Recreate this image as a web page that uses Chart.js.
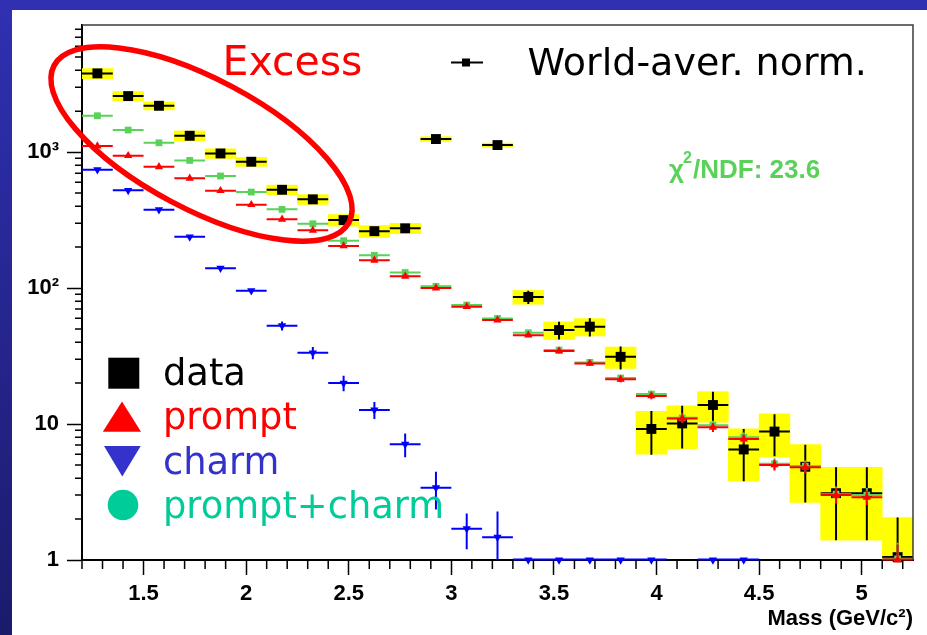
<!DOCTYPE html>
<html><head><meta charset="utf-8">
<script src="https://cdn.jsdelivr.net/npm/chart.js@4.4.1/dist/chart.umd.min.js"></script>
<style>html,body{margin:0;padding:0;background:#fff;overflow:hidden}canvas{display:block}</style>
</head><body>
<canvas id="c" width="927" height="635"></canvas>
<script>
// ---------- data ----------
const massBins = [1.275,1.425,1.575,1.725,1.875,2.025,2.175,2.325,2.475,2.625,2.775,2.925,3.075,3.225,3.375,3.525,3.675,3.825,3.975,4.125,4.275,4.425,4.575,4.725,4.875,5.025,5.175];
const binHalfWidth = 0.075;
const dataValues  = [3790,2580,2190,1318,977,849,528,449,316,262,275,1247,null,1126,86,49.1,52,31.2,9.2,10.1,13.8,6.5,8.8,4.85,3.1,3.1,1.05];
const dataStatErr = [40,30,25,18,14,12,9,8,7,6,6,15,null,14,9.7,7.3,8,6,3.25,3.5,3.5,2.7,3.0,2.2,1.7,1.7,1.0];
const dataSysErr  = [330,205,147,112,80,64,43,37,31,26,24,50,null,38,10,7.3,7.6,5.6,3.2,3.5,3.5,2.7,3.1,2.2,1.7,1.7,1.0];
const promptValues = [1107,940,780,641,520,410,320,266,204,160,122,100,73,58.2,45,34.4,27.9,21.3,16.1,11.0,9.45,7.76,5.0,4.8,3.0,2.89,1.0];
const promptErr    = [8,7,6,5,5,4,4,3.5,3,2.5,2.2,2,1.8,1.6,1.4,1.2,1.1,1.0,0.9,0.8,0.7,0.6,0.45,0.45,0.4,0.35,0.3];
const sumValues = [1850,1452,1170,868,667,508,379,297,223,174,130,103,75,59.8,46.9,35.0,28.4,21.8,16.6,11.1,9.8,8.0,5.1,4.9,3.05,3.0,1.02];
const sumErr    = [10,9,8,7,6,5,4.5,4,3.5,3,2.5,2.2,1.9,1.7,1.5,1.3,1.2,1.05,0.95,0.85,0.75,0.65,0.5,0.5,0.42,0.38,0.32];
const charmValues = [741,523,377,238,140,95.5,52.8,33.4,20.0,12.7,7.1,3.4,1.7,1.47,1,1,1,1,1,null,1,1,null,null,null,null,null];
const charmErr    = [6,5,4,4,3,3,4,3.5,2.6,1.8,1.4,1.05,0.5,0.8,0,0,0,0,0,null,0,0,null,null,null,null,null];
const xMajorTicks = [1.5,2,2.5,3,3.5,4,4.5,5];
const xMinorTicks = [1.2,1.3,1.4,1.6,1.7,1.8,1.9,2.1,2.2,2.3,2.4,2.6,2.7,2.8,2.9,3.1,3.2,3.3,3.4,3.6,3.7,3.8,3.9,4.1,4.2,4.3,4.4,4.6,4.7,4.8,4.9,5.1,5.2];
const yMajorTicks = [1,10,100,1000];
const yTickLabels = ['1','10','10²','10³'];
const yMinorTicks = [2,3,4,5,6,7,8,9,20,30,40,50,60,70,80,90,200,300,400,500,600,700,800,900,2000,3000,4000,5000,6000,7000,8000];
const legendLabels = ['data','prompt','charm','prompt+charm'];
const xTitle = 'Mass (GeV/c²)';
const annotationExcess = 'Excess';
const annotationNorm = 'World-aver. norm.';
const chiLabel = ['χ','2','/NDF: 23.6'];

// ---------- helpers ----------
function pts(vals, errs){
  return massBins.map((x,i)=>({x:x, y:vals[i], e:errs[i]})).filter(p=>p.y!=null);
}
const sysBoxes = massBins.map((x,i)=>dataValues[i]==null?null:{x:x, y:[Math.max(dataValues[i]-dataSysErr[i],0.1), dataValues[i]+dataSysErr[i]]}).filter(Boolean);

const GREEN = '#5ad25a';

const decor = {
  id:'decor',
  beforeDraw(chart){
    const {ctx,width,height} = chart;
    ctx.save();
    const g = ctx.createLinearGradient(0,0,0,height);
    g.addColorStop(0,'#3030b2'); g.addColorStop(1,'#1b1b6c');
    ctx.fillStyle = g; ctx.fillRect(0,0,width,height);
    ctx.fillStyle = '#ffffff'; ctx.fillRect(12,10,width-12,height-10);
    ctx.restore();
  },
  beforeDatasetDraw(chart,args){
    const ds = chart.data.datasets[args.index];
    if(!ds.errorBars) return;
    const {ctx, chartArea:a} = chart;
    const xs = chart.scales.x, ys = chart.scales.y;
    ctx.save();
    ctx.beginPath(); ctx.rect(a.left,a.top,a.right-a.left,a.bottom-a.top+1.5); ctx.clip();
    ctx.strokeStyle = ds.borderColor; ctx.lineWidth = ds.errorLineWidth || 2;
    ctx.beginPath();
    ds.data.forEach(p=>{
      const px = xs.getPixelForValue(p.x);
      const py = Math.min(ys.getPixelForValue(p.y), a.bottom - 0.5);
      const xl = xs.getPixelForValue(p.x-binHalfWidth), xr = xs.getPixelForValue(p.x+binHalfWidth);
      ctx.moveTo(xl,py); ctx.lineTo(xr,py);
      if(p.e){
        const yh = ys.getPixelForValue(p.y+p.e);
        const yl = (p.y-p.e)>0 ? Math.min(ys.getPixelForValue(p.y-p.e), a.bottom) : a.bottom;
        ctx.moveTo(px,yh); ctx.lineTo(px,yl);
      }
    });
    ctx.stroke();
    ctx.restore();
  },
  afterDraw(chart){
    const {ctx, chartArea:a} = chart;
    const xs = chart.scales.x, ys = chart.scales.y;
    ctx.save();
    // frame (top & right)
    ctx.strokeStyle = '#3c3c3c'; ctx.lineWidth = 1.5;
    ctx.beginPath(); ctx.moveTo(a.left,a.top); ctx.lineTo(a.right,a.top); ctx.lineTo(a.right,a.bottom); ctx.stroke();
    // minor ticks
    ctx.strokeStyle = '#000'; ctx.lineWidth = 1.5;
    ctx.beginPath();
    xMinorTicks.forEach(v=>{ const px = xs.getPixelForValue(v); ctx.moveTo(px,a.bottom); ctx.lineTo(px,a.bottom+9); });
    yMinorTicks.forEach(v=>{ const py = ys.getPixelForValue(v); if(py<a.top) return; ctx.moveTo(a.left-7,py); ctx.lineTo(a.left,py); });
    ctx.stroke();

    // Excess ellipse and text
    ctx.strokeStyle = '#ff0000'; ctx.lineWidth = 5.5;
    ctx.beginPath(); ctx.ellipse(201.5,144,167,65,28*Math.PI/180,0,Math.PI*2); ctx.stroke();
    ctx.fillStyle = '#ff0000'; ctx.font = '41px "DejaVu Sans"'; ctx.textAlign='left'; ctx.textBaseline='alphabetic';
    ctx.fillText(annotationExcess, 222.5, 75);

    // World-aver. norm. entry
    ctx.strokeStyle = '#000'; ctx.lineWidth = 2;
    ctx.beginPath(); ctx.moveTo(451,62.5); ctx.lineTo(483,62.5); ctx.stroke();
    ctx.fillStyle = '#000'; ctx.fillRect(462,58.5,8,8);
    ctx.font = '38px "DejaVu Sans"';
    ctx.fillText(annotationNorm, 527.5, 75);

    // chi2 text
    ctx.fillStyle = GREEN;
    ctx.font = 'bold 26px "Liberation Sans"';
    ctx.fillText(chiLabel[0], 669, 178);
    ctx.font = 'bold 16px "Liberation Sans"';
    ctx.fillText(chiLabel[1], 683, 163);
    ctx.font = 'bold 26px "Liberation Sans"';
    ctx.fillText(chiLabel[2], 693, 178);

    // big legend
    ctx.fillStyle = '#000'; ctx.fillRect(108.3,357.7,31,31);
    ctx.fillStyle = '#ff0000';
    ctx.beginPath(); ctx.moveTo(122,401.5); ctx.lineTo(141,431.7); ctx.lineTo(102.8,431.7); ctx.closePath(); ctx.fill();
    ctx.fillStyle = '#3333cc';
    ctx.beginPath(); ctx.moveTo(104,446); ctx.lineTo(140.7,446); ctx.lineTo(122.3,476.5); ctx.closePath(); ctx.fill();
    ctx.fillStyle = '#00cc99';
    ctx.beginPath(); ctx.arc(123,505,15.3,0,Math.PI*2); ctx.fill();
    ctx.font = '36.8px "DejaVu Sans"';
    const cols = ['#000000','#ff0000','#3333cc','#00cc99'];
    const bases = [385,429,473.5,518];
    legendLabels.forEach((t,i)=>{ ctx.fillStyle = cols[i]; ctx.fillText(t,163,bases[i]); });
    ctx.restore();
  }
};

const axisFont = {family:'"Liberation Sans", Arial, sans-serif', size:22, weight:'bold'};
const markClip = {left:8, top:8, right:8, bottom:8};

new Chart(document.getElementById('c'), {
  type:'scatter',
  data:{datasets:[
    {type:'bar', label:'syst', data:sysBoxes, backgroundColor:'#ffff00', borderWidth:0, barPercentage:1, categoryPercentage:1, grouped:false, order:5},
    {label:'data', data:pts(dataValues,dataStatErr), errorBars:true, errorLineWidth:2, borderColor:'#000000', backgroundColor:'#000000', pointStyle:'rect', pointRadius:7, pointBorderWidth:0, showLine:false, clip:markClip, order:4},
    {label:'charm', data:pts(charmValues,charmErr), errorBars:true, errorLineWidth:2, borderColor:'#0000ff', backgroundColor:'#0000ff', pointStyle:'triangle', pointRotation:180, pointRadius:4.8, pointBorderWidth:0, showLine:false, clip:markClip, order:3},
    {label:'prompt+charm', data:pts(sumValues,sumErr), errorBars:true, errorLineWidth:2, borderColor:GREEN, backgroundColor:GREEN, pointStyle:'rect', pointRadius:4.8, pointBorderWidth:0, showLine:false, clip:markClip, order:2},
    {label:'prompt', data:pts(promptValues,promptErr), errorBars:true, errorLineWidth:2, borderColor:'#ff0000', backgroundColor:'#ff0000', pointStyle:'triangle', pointRadius:4.8, pointBorderWidth:0, showLine:false, clip:markClip, order:1}
  ]},
  options:{
    responsive:false, devicePixelRatio:1, animation:false, events:[],
    layout:{padding:{left:0, top:25, right:14, bottom:0}},
    plugins:{legend:{display:false}, tooltip:{enabled:false}},
    scales:{
      x:{type:'linear', min:1.2, max:5.25, offset:false,
        afterBuildTicks:s=>{ s.ticks = xMajorTicks.map(v=>({value:v})); },
        afterFit:s=>{ s.height = 75; },
        grid:{display:true, drawOnChartArea:false, drawTicks:true, tickLength:15, tickColor:'#000', tickWidth:1.5, offset:false},
        border:{display:true, color:'#000', width:2},
        ticks:{autoSkip:false, maxRotation:0, padding:6, color:'#000', font:axisFont, callback:v=>String(v)},
        title:{display:true, text:xTitle, align:'end', color:'#000', font:axisFont, padding:{top:0,bottom:3}}
      },
      y:{type:'logarithmic', min:1, max:8600,
        afterBuildTicks:s=>{ s.ticks = yMajorTicks.map(v=>({value:v})); },
        afterFit:s=>{ s.width = 82; },
        grid:{display:true, drawOnChartArea:false, drawTicks:true, tickLength:15, tickColor:'#000', tickWidth:1.5},
        border:{display:true, color:'#000', width:2},
        ticks:{autoSkip:false, padding:8, color:'#000', font:axisFont, callback:v=>{ const i = yMajorTicks.indexOf(v); return i>=0 ? yTickLabels[i] : ''; }}
      }
    }
  },
  plugins:[decor]
});
</script>
</body></html>
